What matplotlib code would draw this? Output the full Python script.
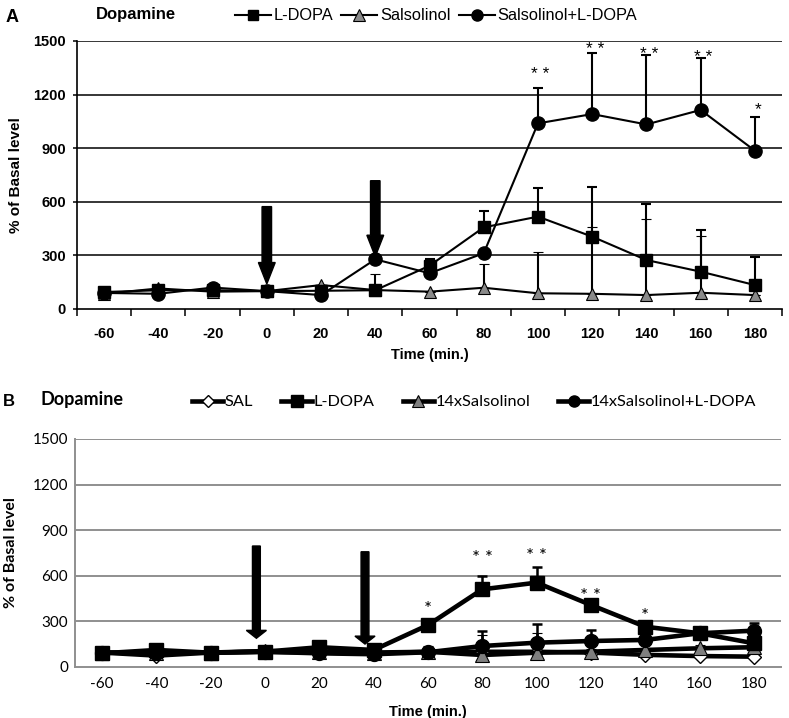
import matplotlib
matplotlib.use("Agg")
import matplotlib.pyplot as plt
import numpy as np
from matplotlib.lines import Line2D

# ---------------- data ----------------
times = [-60, -40, -20, 0, 20, 40, 60, 80, 100, 120, 140, 160, 180]
tick_labels = [str(t) for t in times]
yticks = [0, 300, 600, 900, 1200, 1500]

# Panel A
a_ldopa = [95, 105, 105, 100, 102, 105, 242, 457, 517, 405, 274, 209, 134]
a_ldopa_err = [0, 0, 0, 0, 0, 0, 38, 93, 162, 276, 312, 233, 155]
a_sal = [85, 115, 97, 100, 134, 106, 97, 119, 88, 85, 78, 91, 78]
a_sal_err = [0, 0, 0, 0, 0, 90, 0, 131, 229, 375, 426, 317, 0]
a_combo = [90, 85, 120, 100, 78, 278, 200, 312, 1039, 1091, 1033, 1114, 886]
a_combo_err = [0, 0, 0, 0, 0, 0, 0, 0, 199, 340, 388, 289, 187]
a_star_times = [100, 120, 140, 160, 180]
a_star_text = ["**", "**", "**", "**", "*"]
a_star_y = [1310, 1452, 1423, 1407, 1116]
a_arrow_times = [0, 40]
a_arrow_top = [573, 718]
a_arrow_tip = [140, 293]

# Panel B
b_sal = [95, 75, 95, 100, 95, 90, 100, 100, 100, 95, 80, 72, 68]
b_sal_err = [10, 10, 10, 10, 10, 10, 10, 10, 10, 10, 10, 10, 10]
b_ldopa = [90, 112, 94, 101, 130, 112, 276, 511, 555, 408, 265, 222, 156]
b_ldopa_err = [40, 15, 15, 15, 15, 15, 15, 89, 105, 40, 15, 15, 15]
b_14sal = [95, 95, 95, 105, 100, 95, 100, 79, 94, 101, 112, 123, 130]
b_14sal_err = [10, 10, 10, 10, 10, 10, 38, 131, 130, 20, 15, 20, 15]
b_combo = [95, 90, 95, 100, 90, 84, 97, 138, 160, 171, 178, 222, 239]
b_combo_err = [15, 15, 15, 15, 15, 15, 20, 101, 121, 72, 20, 20, 53]
b_star_times = [60, 80, 100, 120, 140]
b_star_text = ["*", "**", "**", "**", "*"]
b_star_y = [376, 712, 727, 464, 332]
b_arrow_times = [0, 40]
b_arrow_top = [796, 758]
b_arrow_tip = [189, 151]

# ---------------- figure ----------------
W, H = 789, 718
fig = plt.figure(figsize=(W / 100, H / 100), dpi=100)

def fx(px):
    return px / W

def fy(py):
    return 1 - py / H

x = np.arange(len(times))
arial = ["Liberation Sans", "DejaVu Sans"]
calibri = ["Lato", "DejaVu Sans"]

# ---------- Panel A ----------
axA = fig.add_axes([fx(77), fy(309), fx(782 - 77), (309 - 41) / H])
axA.set_xlim(-0.5, len(times) - 0.5)
axA.set_ylim(0, 1500)
for yv in yticks[1:]:
    axA.axhline(yv, color="black", lw=1.1, zorder=0)
for s in ["top", "right"]:
    axA.spines[s].set_visible(False)
for s in ["left", "bottom"]:
    axA.spines[s].set_linewidth(1.2)
    axA.spines[s].set_color("black")
axA.set_yticks(yticks)
axA.set_yticklabels([str(v) for v in yticks], fontfamily=arial,
                    fontweight="bold", fontsize=10.5)
axA.tick_params(axis="y", direction="out", length=3, width=1.1, pad=5)
axA.set_xticks(np.arange(-0.5, len(times) + 0.5, 1))
axA.set_xticklabels([])
axA.tick_params(axis="x", which="major", direction="out", length=5, width=1.1)
axA.set_xticks(x, minor=True)
axA.set_xticklabels(tick_labels, minor=True, fontfamily=arial,
                    fontweight="bold", fontsize=10.5)
axA.tick_params(axis="x", which="minor", length=0, pad=13)

kwA = dict(color="black", lw=1.5, capsize=3.5, elinewidth=1.5, capthick=1.5)
axA.errorbar(x, a_sal, yerr=[np.zeros(len(x)), a_sal_err], marker="^",
             ms=9, mfc="#8a8a8a", mec="black", mew=0.8, zorder=3, **kwA)
axA.errorbar(x, a_ldopa, yerr=[np.zeros(len(x)), a_ldopa_err], marker="s",
             ms=8, mfc="black", mec="black", zorder=4, **kwA)
axA.errorbar(x, a_combo, yerr=[np.zeros(len(x)), a_combo_err], marker="o",
             ms=9.5, mfc="black", mec="black", zorder=5, **kwA)

for t, txt, yv in zip(a_star_times, a_star_text, a_star_y):
    axA.text(times.index(t) + 0.05, yv, " ".join(txt), ha="center", va="center",
             fontsize=12.5, fontfamily=arial)

for t, top, tip in zip(a_arrow_times, a_arrow_top, a_arrow_tip):
    xi = times.index(t)
    axA.arrow(xi, top, 0, tip - top, width=0.175, head_width=0.31,
              head_length=120, length_includes_head=True,
              color="black", zorder=6)

axA.set_xlabel("Time (min.)", fontfamily=arial, fontweight="bold", fontsize=10.5)
axA.xaxis.set_label_coords(0.5, -0.147)
axA.set_ylabel("% of Basal level", fontfamily=arial, fontweight="bold", fontsize=11)
axA.yaxis.set_label_coords(-0.077, 0.5)

fig.text(fx(6), fy(18), "A", fontfamily=arial, fontweight="bold", fontsize=13,
         va="center", ha="left")
fig.text(fx(96), fy(15), "Dopamine", fontfamily=arial, fontweight="bold",
         fontsize=12, va="center", ha="left")

hA = [
    Line2D([], [], color="black", lw=1.5, marker="s", ms=7, mfc="black"),
    Line2D([], [], color="black", lw=1.5, marker="^", ms=8, mfc="#8a8a8a", mec="black", mew=0.8),
    Line2D([], [], color="black", lw=1.5, marker="o", ms=8, mfc="black"),
]
legA = fig.legend(hA, ["L-DOPA", "Salsolinol", "Salsolinol+L-DOPA"],
                  loc="center left", bbox_to_anchor=(fx(235), fy(16)), ncol=3,
                  frameon=False, handlelength=2.2, handletextpad=0.15,
                  columnspacing=0.5, borderpad=0, borderaxespad=0,
                  prop=dict(family=arial, size=11.8))

# ---------- Panel B ----------
axB = fig.add_axes([fx(75), fy(667), fx(781 - 75), (667 - 439) / H])
axB.set_xlim(-0.5, len(times) - 0.5)
axB.set_ylim(0, 1500)
grey = "#8f8f8f"
for yv in yticks[1:]:
    axB.axhline(yv, color=grey, lw=1.4, zorder=0)
for s in ["top", "right"]:
    axB.spines[s].set_visible(False)
for s in ["left", "bottom"]:
    axB.spines[s].set_linewidth(1.4)
    axB.spines[s].set_color(grey)
axB.set_yticks(yticks)
axB.set_yticklabels([str(v) for v in yticks], fontfamily=calibri, fontsize=11)
axB.tick_params(axis="y", length=0, pad=5)
axB.set_xticks(x)
axB.set_xticklabels(tick_labels, fontfamily=calibri, fontsize=11)
axB.tick_params(axis="x", length=0, pad=7)

kwB = dict(color="black", lw=3.3, capsize=3.5, elinewidth=1.8, capthick=1.8)
axB.errorbar(x, b_sal, yerr=[np.zeros(len(x)), b_sal_err], marker="D",
             ms=7, mfc="white", mec="black", mew=1.0, zorder=3, **kwB)
axB.errorbar(x, b_14sal, yerr=[np.zeros(len(x)), b_14sal_err], marker="^",
             ms=10, mfc="#7f7f7f", mec="black", mew=0.8, zorder=4, **kwB)
axB.errorbar(x, b_combo, yerr=[np.zeros(len(x)), b_combo_err], marker="o",
             ms=10, mfc="black", mec="black", zorder=5, **kwB)
axB.errorbar(x, b_ldopa, yerr=[np.zeros(len(x)), b_ldopa_err], marker="s",
             ms=10, mfc="black", mec="black", zorder=6, **kwB)

for t, txt, yv in zip(b_star_times, b_star_text, b_star_y):
    axB.text(times.index(t), yv, " ".join(txt), ha="center", va="center",
             fontsize=13.5, fontfamily=calibri)

for t, top, tip in zip(b_arrow_times, b_arrow_top, b_arrow_tip):
    xi = times.index(t) - 0.16
    axB.arrow(xi, top, 0, tip - top, width=0.145, head_width=0.37,
              head_length=52, length_includes_head=True,
              color="black", zorder=7)

axB.set_xlabel("Time (min.)", fontfamily=arial, fontweight="bold", fontsize=10.5)
axB.xaxis.set_label_coords(0.5, -0.165)
axB.set_ylabel("% of Basal level", fontfamily=calibri, fontweight="bold", fontsize=11.5)
axB.yaxis.set_label_coords(-0.081, 0.5)

fig.text(fx(3), fy(401), "B", fontfamily=arial, fontweight="bold", fontsize=12,
         va="center", ha="left")
fig.text(fx(40), fy(400), "Dopamine", fontfamily=calibri, fontweight="bold",
         fontsize=13, va="center", ha="left")

hB = [
    Line2D([], [], color="black", lw=3.3, marker="D", ms=6, mfc="white", mec="black"),
    Line2D([], [], color="black", lw=3.3, marker="s", ms=8, mfc="black"),
    Line2D([], [], color="black", lw=3.3, marker="^", ms=8, mfc="#7f7f7f", mec="black", mew=0.8),
    Line2D([], [], color="black", lw=3.3, marker="o", ms=8, mfc="black"),
]
legB = fig.legend(hB, ["SAL", "L-DOPA", "14xSalsolinol", "14xSalsolinol+L-DOPA"],
                  loc="center left", bbox_to_anchor=(fx(192), fy(402)), ncol=4,
                  frameon=False, handlelength=1.9, handletextpad=0.1,
                  columnspacing=1.7, borderpad=0, borderaxespad=0,
                  prop=dict(family=calibri, size=11.8))

fig.savefig("out.png", dpi=100)
